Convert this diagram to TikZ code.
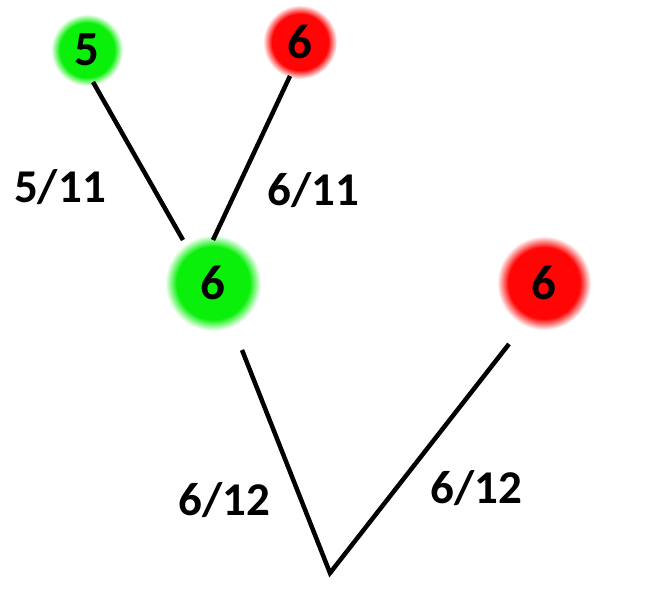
\documentclass[tikz,border=0pt]{standalone}
\usepackage{fontspec}
\setmainfont{Carlito}
\definecolor{glowgreen}{RGB}{10,240,10}
\definecolor{glowred}{RGB}{255,5,5}
\pgfdeclareradialshading{greenglow}{\pgfpoint{0bp}{0bp}}{color(0bp)=(glowgreen);color(19bp)=(glowgreen);color(25bp)=(white);color(50bp)=(white)}
\pgfdeclareradialshading{redglow}{\pgfpoint{0bp}{0bp}}{color(0bp)=(glowred);color(19bp)=(glowred);color(25bp)=(white);color(50bp)=(white)}
\tikzset{
  vert/.style={circle, inner sep=0pt, font=\bfseries\fontsize{49}{49}\selectfont},
  gnode/.style={vert, shading=greenglow},
  rnode/.style={vert, shading=redglow},
  edge/.style={line width=4.5pt, line cap=butt},
  lab/.style={font=\bfseries\fontsize{47}{47}\selectfont, inner sep=0pt}
}
\begin{document}
\begin{tikzpicture}[x=1pt,y=-1pt]
\useasboundingbox (0,0) rectangle (651,598);
\node[gnode, minimum size=72pt] (g5) at (87,50) {5};
\node[rnode, minimum size=74pt] (r6a) at (300,42) {6};
\node[gnode, minimum size=96pt] (g6) at (213,283) {6};
\node[rnode, minimum size=94pt] (r6b) at (544,283) {6};
\coordinate (a1) at (93,82);
\coordinate (a2) at (183,240);
\coordinate (b1) at (290,76);
\coordinate (b2) at (213,240);
\coordinate (c1) at (242,350);
\coordinate (root) at (330,573);
\coordinate (d1) at (509,344);
\draw[edge] (a1) -- (a2);
\draw[edge] (b1) -- (b2);
\draw[edge] (c1) -- (root) -- (d1);
\node[lab] (l1) at (60,187) {5/11};
\node[lab] (l2) at (313,190) {6/11};
\node[lab] (l3) at (224,500) {6/12};
\node[lab] (l4) at (476,488) {6/12};
\end{tikzpicture}
\end{document}
